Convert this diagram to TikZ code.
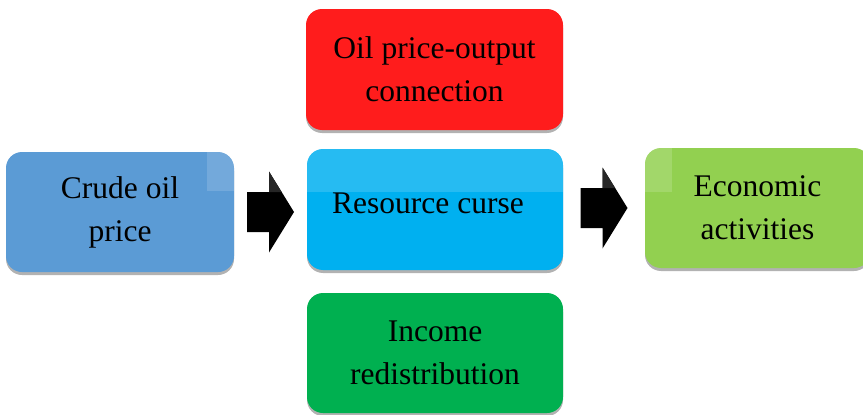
\documentclass[tikz,border=0pt]{standalone}
\usepackage{fontspec}
\setmainfont{Liberation Serif}
\usetikzlibrary{calc,shadows}

\definecolor{crudeblue}{HTML}{5B9BD5}
\definecolor{outputred}{HTML}{FF1C1C}
\definecolor{curseblue}{HTML}{00B0F0}
\definecolor{incomegreen}{HTML}{00B050}
\definecolor{econgreen}{HTML}{92D050}

\tikzset{
  blockarrow/.pic={
    \fill[black] (-23.5,-20) -- (-1.5,-20) -- (-1.5,-40.5) -- (23.5,0) -- (-1.5,40.5) -- (-1.5,20) -- (-23.5,20) -- cycle;
    \fill[black!85] (-1.5,-40.5) -- (11.1,-20) -- (-1.5,-20) -- cycle;
  }
}

\begin{document}
\begin{tikzpicture}[x=1pt, y=-1pt,
    box/.style={rounded corners=16pt, inner sep=0pt, align=center,
      font=\fontsize{31.5}{43}\selectfont,
      drop shadow={shadow xshift=0pt, shadow yshift=-3pt, fill=gray!60, opacity=1}},
    gloss/.style={sharp corners, fill=white, opacity=0.15}]
	\useasboundingbox (0,0) rectangle (863,415);

	% Блоки
	\node[box, fill=crudeblue, minimum width=228, minimum height=120,
	  path picture={\fill[gloss] (path picture bounding box.north east) rectangle ++(-27pt,-39pt);}]
	  (crude) at (120,212) {Crude oil\\price};
	\node[box, fill=outputred, minimum width=257, minimum height=121]
	  (output) at (434.5,69.5) {Oil price-output\\connection};
	\node[box, fill=curseblue, minimum width=256, minimum height=121,
	  path picture={\fill[gloss] (path picture bounding box.north west) rectangle ++(260pt,-43pt);},
	  label={[font=\fontsize{31.5}{43}\selectfont, xshift=-7pt, yshift=6pt]center:Resource curse}]
	  (curse) at (435,209.5) {};
	\node[box, fill=incomegreen, minimum width=256, minimum height=120]
	  (income) at (435,353) {Income\\redistribution};
	\node[box, fill=econgreen, minimum width=225, minimum height=120,
	  path picture={\fill[gloss] (path picture bounding box.north west) rectangle ++(27pt,-44pt);}]
	  (econ) at (757.5,208) {Economic\\activities};

	% Стрелки
	\coordinate (a1) at ($(crude.east)!0.5!(crude.east -| curse.west)$);
	\coordinate (a2) at ($(econ.west -| curse.east)!0.5!(econ.west)$);
	\pic at (a1) {blockarrow};
	\pic at (a2) {blockarrow};
\end{tikzpicture}
\end{document}
